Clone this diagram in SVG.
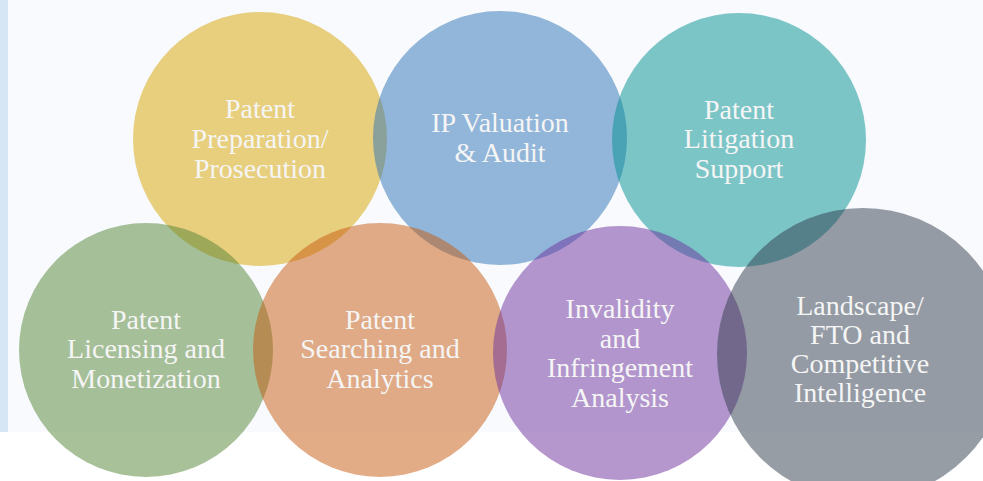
<svg xmlns="http://www.w3.org/2000/svg" width="983" height="481" viewBox="0 0 983 481">
  <style>
    .c { opacity: 0.5; }
    .t { font-family: "Liberation Serif", "Times New Roman", serif; font-size: 28px; fill: #f5f5f5; text-anchor: middle; }
  </style>
  <rect x="0" y="0" width="983" height="481" fill="#ffffff"/>
  <rect x="8" y="0" width="975" height="432" fill="#f8fafd"/>
  <rect x="0" y="0" width="8" height="432" fill="#d6e6f4"/>

  <g id="node-preparation">
    <circle class="c" cx="260" cy="139" r="127" fill="#d8a300"/>
    <text class="t" x="260"><tspan x="260" y="118">Patent</tspan><tspan x="260" y="148">Preparation/</tspan><tspan x="260" y="178">Prosecution</tspan></text>
  </g>
  <g id="node-valuation">
    <circle class="c" cx="500" cy="138" r="127" fill="#2c71b5"/>
    <text class="t" x="500"><tspan x="500" y="132">IP Valuation</tspan><tspan x="500" y="162">&amp; Audit</tspan></text>
  </g>
  <g id="node-litigation">
    <circle class="c" cx="739" cy="140" r="127" fill="#008f91"/>
    <text class="t" x="739"><tspan x="739" y="119">Patent</tspan><tspan x="739" y="148">Litigation</tspan><tspan x="739" y="178">Support</tspan></text>
  </g>
  <g id="node-licensing">
    <circle class="c" cx="146" cy="350" r="127" fill="#528333"/>
    <text class="t" x="146"><tspan x="146" y="329">Patent</tspan><tspan x="146" y="358">Licensing and</tspan><tspan x="146" y="388">Monetization</tspan></text>
  </g>
  <g id="node-searching">
    <circle class="c" cx="380" cy="350" r="127" fill="#c6590d"/>
    <text class="t" x="380"><tspan x="380" y="329">Patent</tspan><tspan x="380" y="358">Searching and</tspan><tspan x="380" y="388">Analytics</tspan></text>
  </g>
  <g id="node-invalidity">
    <circle class="c" cx="620" cy="353" r="127" fill="#6c2f9d"/>
    <text class="t" x="620"><tspan x="620" y="318">Invalidity</tspan><tspan x="620" y="348">and</tspan><tspan x="620" y="377">Infringement</tspan><tspan x="620" y="407">Analysis</tspan></text>
  </g>
  <g id="node-landscape">
    <circle class="c" cx="863" cy="354" r="146" fill="#303b4b"/>
    <text class="t" x="860"><tspan x="860" y="315">Landscape/</tspan><tspan x="860" y="344">FTO and</tspan><tspan x="860" y="373">Competitive</tspan><tspan x="860" y="402">Intelligence</tspan></text>
  </g>
  <g id="connectors"></g>
</svg>
